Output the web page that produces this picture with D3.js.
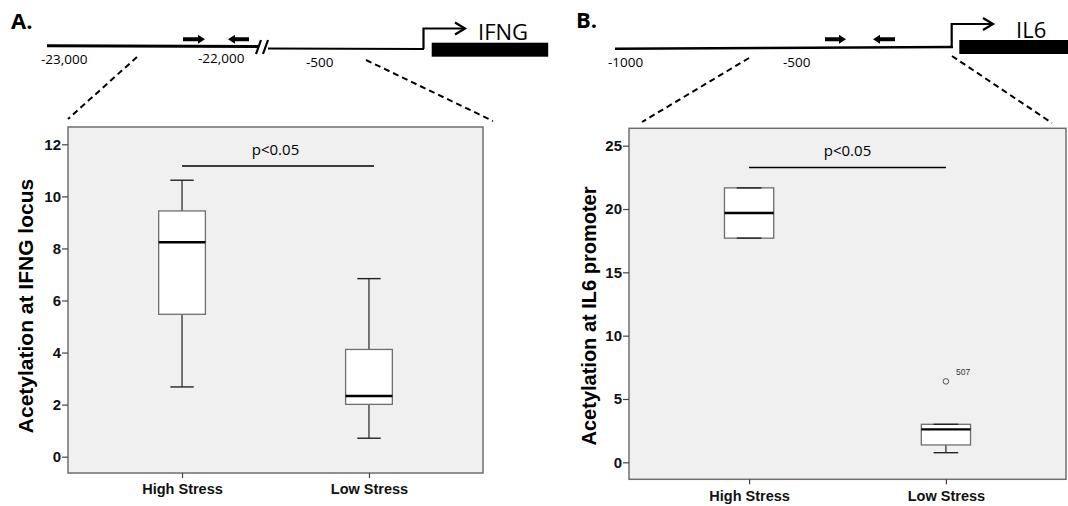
<!DOCTYPE html>
<html>
<head>
<meta charset="utf-8">
<script src="https://cdn.jsdelivr.net/npm/d3@7"></script>
<style>
  html, body { margin: 0; padding: 0; background: #fff; }
  svg { display: block; }
</style>
</head>
<body>
<svg id="fig" width="1068" height="506"></svg>
<script>
// ---- data ----
const groups = ["High Stress", "Low Stress"];

// IFNG locus acetylation: five-number summaries per group
const ifngMin    = [2.68, 0.71];
const ifngQ1     = [5.47, 2.01];
const ifngMedian = [8.24, 2.33];
const ifngQ3     = [9.44, 4.12];
const ifngMax    = [10.62, 6.84];
const ifngOutliers = [];
const ifngTicks  = [0, 2, 4, 6, 8, 10, 12];
const ifngSigY   = 11.17;

// IL6 promoter acetylation: five-number summaries per group
const il6Min    = [17.70, 0.76];
const il6Q1     = [17.70, 1.37];
const il6Median = [19.68, 2.60];
const il6Q3     = [21.67, 3.00];
const il6Max    = [21.67, 3.00];
const il6Outliers = [{ group: "Low Stress", value: 6.39, id: "507" }];
const il6Ticks  = [0, 5, 10, 15, 20, 25];
const il6SigY   = 23.28;

const pLabel = "p<0.05";

const svg = d3.select("#fig");
const labelFont = "'Liberation Sans', Arial, sans-serif";
const textFont = "'Open Sans', 'Noto Sans', sans-serif";

function boxPanel(opt) {
  const g = svg.append("g");
  const f = opt.frame;
  const x = d3.scalePoint().domain(groups).range([f.x0, f.x1]).padding(0.61);
  const y = d3.scaleLinear().domain(opt.domain).range(opt.yRange);
  const step = x.step();
  const bw = step * 0.25;

  g.append("rect")
    .attr("x", f.x0).attr("y", f.y0)
    .attr("width", f.x1 - f.x0).attr("height", f.y1 - f.y0)
    .attr("fill", "#f0f0f0").attr("stroke", "#6f6f6f").attr("stroke-width", 1.5);

  // y axis ticks + labels
  const yAxis = d3.axisLeft(y).tickValues(opt.ticks).tickSize(6).tickPadding(1).tickFormat(d3.format("d"));
  const ya = g.append("g").attr("transform", `translate(${f.x0},0)`).call(yAxis);
  ya.select(".domain").remove();
  ya.selectAll(".tick line").attr("stroke", "#444").attr("stroke-width", 1.2);
  ya.selectAll(".tick text")
    .attr("font-family", labelFont).attr("font-weight", "bold")
    .attr("font-size", 15).attr("fill", "#111");

  // x axis ticks + labels
  const xAxis = d3.axisBottom(x).tickSize(5).tickPadding(6);
  const xa = g.append("g").attr("transform", `translate(0,${f.y1})`).call(xAxis);
  xa.select(".domain").remove();
  xa.selectAll(".tick line").attr("stroke", "#444").attr("stroke-width", 1.2);
  xa.selectAll(".tick text")
    .attr("font-family", labelFont).attr("font-weight", "bold")
    .attr("font-size", 14.5).attr("fill", "#111")
    .attr("dy", opt.xLabelDy);

  const stats = groups.map((k, i) => ({
    key: k, min: opt.min[i], q1: opt.q1[i], med: opt.median[i], q3: opt.q3[i], max: opt.max[i]
  }));

  const bx = g.selectAll(".bx").data(stats).join("g").attr("class", "bx");
  // whiskers
  bx.append("line")
    .attr("x1", d => x(d.key)).attr("x2", d => x(d.key))
    .attr("y1", d => y(d.max)).attr("y2", d => y(d.q3))
    .attr("stroke", "#333").attr("stroke-width", 1.3);
  bx.append("line")
    .attr("x1", d => x(d.key)).attr("x2", d => x(d.key))
    .attr("y1", d => y(d.q1)).attr("y2", d => y(d.min))
    .attr("stroke", "#333").attr("stroke-width", 1.3);
  // box
  bx.append("rect")
    .attr("x", d => x(d.key) - bw / 2).attr("width", bw)
    .attr("y", d => y(d.q3)).attr("height", d => y(d.q1) - y(d.q3))
    .attr("fill", "#fff").attr("stroke", "#6e6e6e").attr("stroke-width", 1.3);
  // caps
  bx.append("line")
    .attr("x1", d => x(d.key) - bw / 4).attr("x2", d => x(d.key) + bw / 4)
    .attr("y1", d => y(d.max)).attr("y2", d => y(d.max))
    .attr("stroke", "#222").attr("stroke-width", 1.4);
  bx.append("line")
    .attr("x1", d => x(d.key) - bw / 4).attr("x2", d => x(d.key) + bw / 4)
    .attr("y1", d => y(d.min)).attr("y2", d => y(d.min))
    .attr("stroke", "#222").attr("stroke-width", 1.4);
  // median
  bx.append("line")
    .attr("x1", d => x(d.key) - bw / 2).attr("x2", d => x(d.key) + bw / 2)
    .attr("y1", d => y(d.med)).attr("y2", d => y(d.med))
    .attr("stroke", "#000").attr("stroke-width", 2.4);

  // outliers
  const out = g.selectAll(".out").data(opt.outliers).join("g").attr("class", "out");
  out.append("circle")
    .attr("cx", d => x(d.group)).attr("cy", d => y(d.value)).attr("r", 2.8)
    .attr("fill", "none").attr("stroke", "#555").attr("stroke-width", 1);
  out.append("text")
    .attr("x", d => x(d.group) + 10).attr("y", d => y(d.value) - 6)
    .attr("font-family", labelFont).attr("font-size", 8.5).attr("fill", "#333")
    .text(d => d.id);

  // significance bar
  g.append("line")
    .attr("x1", x(groups[0])).attr("x2", x(groups[1]) + opt.sigExtend)
    .attr("y1", y(opt.sigY)).attr("y2", y(opt.sigY))
    .attr("stroke", "#000").attr("stroke-width", 1.5);
  g.append("text")
    .attr("x", (x(groups[0]) + x(groups[1])) / 2).attr("y", y(opt.sigY) - 11)
    .attr("text-anchor", "middle")
    .attr("font-family", textFont).attr("font-size", 15).attr("fill", "#000")
    .text(pLabel);

  // y title
  g.append("text")
    .attr("transform", `translate(${opt.title.x},${opt.title.y}) rotate(-90)`)
    .attr("text-anchor", "middle")
    .attr("font-family", labelFont).attr("font-weight", "bold")
    .attr("font-size", opt.title.size).attr("fill", "#000")
    .text(opt.title.text);
}

boxPanel({
  frame: { x0: 68, x1: 483, y0: 127, y1: 473 },
  domain: [0, 12], yRange: [456.7, 144.3],
  ticks: ifngTicks,
  min: ifngMin, q1: ifngQ1, median: ifngMedian, q3: ifngQ3, max: ifngMax,
  outliers: ifngOutliers, sigY: ifngSigY, sigExtend: 5, xLabelDy: "0.71em",
  title: { x: 33, y: 306, size: 21, text: "Acetylation at IFNG locus" }
});

boxPanel({
  frame: { x0: 629, x1: 1066, y0: 128.3, y1: 479.3 },
  domain: [0, 25], yRange: [462.3, 145.7],
  ticks: il6Ticks,
  min: il6Min, q1: il6Q1, median: il6Median, q3: il6Q3, max: il6Max,
  outliers: il6Outliers, sigY: il6SigY, sigExtend: 0, xLabelDy: "0.71em",
  title: { x: 596, y: 316, size: 20, text: "Acetylation at IL6 promoter" }
});

// ---- gene schematics ----
function primer(g, x0, x1, yc, dir) {
  const head = 7, sh = 2, hh = 4.5;
  let pts;
  if (dir > 0) {
    pts = [[x0, yc - sh], [x1 - head, yc - sh], [x1 - head, yc - hh], [x1, yc],
           [x1 - head, yc + hh], [x1 - head, yc + sh], [x0, yc + sh]];
  } else {
    pts = [[x1, yc - sh], [x0 + head, yc - sh], [x0 + head, yc - hh], [x0, yc],
           [x0 + head, yc + hh], [x0 + head, yc + sh], [x1, yc + sh]];
  }
  g.append("polygon").attr("points", pts.map(p => p.join(",")).join(" ")).attr("fill", "#000");
}

function tss(g, x, yBase, yTop, xEnd) {
  g.append("path")
    .attr("d", `M${x},${yBase} V${yTop} H${xEnd}`)
    .attr("fill", "none").attr("stroke", "#000").attr("stroke-width", 2.2);
  g.append("path")
    .attr("d", `M${xEnd - 10},${yTop - 6} L${xEnd},${yTop} L${xEnd - 10},${yTop + 6}`)
    .attr("fill", "none").attr("stroke", "#000").attr("stroke-width", 2.2);
}

function dashed(g, x1, y1, x2, y2) {
  g.append("line").attr("x1", x1).attr("y1", y1).attr("x2", x2).attr("y2", y2)
    .attr("stroke", "#000").attr("stroke-width", 2).attr("stroke-dasharray", "6,4");
}

function txt(g, x, y, s, size, weight, anchor) {
  g.append("text").attr("x", x).attr("y", y)
    .attr("font-family", textFont).attr("font-size", size)
    .attr("font-weight", weight || "normal")
    .attr("text-anchor", anchor || "start").attr("fill", "#000").text(s);
}

// Panel A: IFNG locus
const ga = svg.append("g");
txt(ga, 11, 28.5, "A.", 22, "bold");
ga.append("line").attr("x1", 47).attr("y1", 45.8).attr("x2", 262).attr("y2", 46.5)
  .attr("stroke", "#000").attr("stroke-width", 3);
ga.append("line").attr("x1", 266).attr("y1", 48.5).attr("x2", 424).attr("y2", 49)
  .attr("stroke", "#000").attr("stroke-width", 2.2);
ga.append("rect").attr("x", 258).attr("y", 42).attr("width", 10).attr("height", 10).attr("fill", "#fff");
ga.append("line").attr("x1", 256).attr("y1", 54).attr("x2", 261).attr("y2", 40).attr("stroke", "#000").attr("stroke-width", 2.2);
ga.append("line").attr("x1", 263).attr("y1", 54).attr("x2", 268).attr("y2", 40).attr("stroke", "#000").attr("stroke-width", 2.2);
ga.append("rect").attr("x", 431.7).attr("y", 42.7).attr("width", 116.5).attr("height", 14).attr("fill", "#000");
tss(ga, 423.5, 49, 28.5, 465);
txt(ga, 478, 39.5, "IFNG", 22);
primer(ga, 183, 205, 39.3, 1);
primer(ga, 228, 249, 39.3, -1);
txt(ga, 41, 63.5, "-23,000", 13.5);
txt(ga, 198, 62.5, "-22,000", 13.5);
txt(ga, 306, 66.5, "-500", 13.5);
dashed(ga, 137, 57, 68, 119);
dashed(ga, 366, 60, 493, 121);

// Panel B: IL6 promoter
const gb = svg.append("g");
txt(gb, 576, 27.5, "B.", 22, "bold");
gb.append("line").attr("x1", 615).attr("y1", 48.8).attr("x2", 953).attr("y2", 47)
  .attr("stroke", "#000").attr("stroke-width", 2.6);
gb.append("rect").attr("x", 959.3).attr("y", 40).attr("width", 110).attr("height", 14).attr("fill", "#000");
tss(gb, 951.7, 47, 24, 993);
txt(gb, 1016, 37.5, "IL6", 22);
primer(gb, 825, 846, 39.3, 1);
primer(gb, 873, 895, 39.3, -1);
txt(gb, 608, 66.5, "-1000", 13.5);
txt(gb, 783, 66.5, "-500", 13.5);
dashed(gb, 749, 58, 642, 122);
dashed(gb, 952, 56, 1052, 123);
</script>
</body>
</html>
